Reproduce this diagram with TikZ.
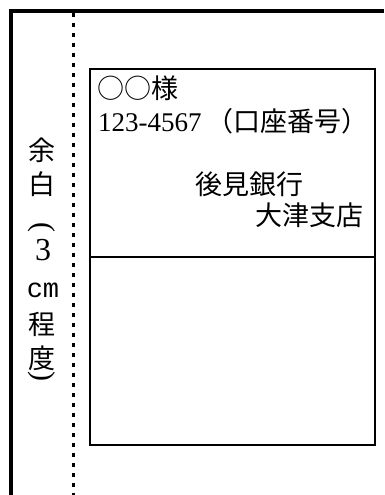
\documentclass[tikz,border=0pt]{standalone}
\usepackage{fontspec}
\setmainfont{Liberation Serif}
\newfontfamily\cjk{Noto Sans CJK JP}
\newfontfamily\monofam{Liberation Mono}
\newcommand{\vparen}[1]{\rotatebox[origin=c]{-90}{\fontsize{30bp}{30bp}\selectfont #1}}
\begin{document}
\begin{tikzpicture}[x=1bp,y=-1bp,
  thickline/.style={line width=4bp},
  boxline/.style={line width=2.2bp},
  dashline/.style={line width=3bp,dash pattern=on 4.3bp off 5.7bp},
  txt/.style={inner sep=0pt,font=\fontsize{27bp}{31bp}\selectfont},
  vchar/.style={inner sep=0pt,font=\cjk\fontsize{27bp}{31bp}\selectfont}]
\useasboundingbox (0,0) rectangle (384,495);
% frame
\coordinate (tl) at (11,9);
\coordinate (tr) at (384,11);
\coordinate (bl) at (11,495);
\draw[thickline] (tl |- tr) -- (tr);
\draw[thickline] (tl) -- (bl);
% dashed margin line
\coordinate (dt) at (73.5,13);
\coordinate (db) at (73.5,495);
\draw[dashline] (dt) -- (db);
% box
\draw[boxline] (90,69) rectangle (375,445);
\coordinate (dl) at (90,257);
\coordinate (dr) at (375,257);
\draw[boxline] (dl) -- (dr);
% box text
\node[txt,anchor=base west] (l1) at (97,99) {\cjk ○○様};
\node[txt,anchor=base west] (l2) at (98,132) {123-4567\hspace{5bp}\cjk （口座番号）};
\node[txt,anchor=base east] (l3) at (304,195) {\cjk 後見銀行};
\node[txt,anchor=base east] (l4) at (364,225) {\cjk 大津支店};
% vertical margin text
\node[vchar] (v1) at (42,150) {余};
\node[vchar] (v2) at (42,184) {白};
\node[inner sep=0pt] (v3) at (42,229) {\vparen{(}};
\node[inner sep=0pt,font=\fontsize{32bp}{34bp}\selectfont] (v4) at (43,250) {3};
\node[inner sep=0pt,font=\monofam\fontsize{27bp}{31bp}\selectfont] (v5) at (43,290) {cm};
\node[vchar] (v6) at (42,324) {程};
\node[vchar] (v7) at (42,358) {度};
\node[inner sep=0pt] (v8) at (42,378) {\vparen{)}};
\end{tikzpicture}
\end{document}
